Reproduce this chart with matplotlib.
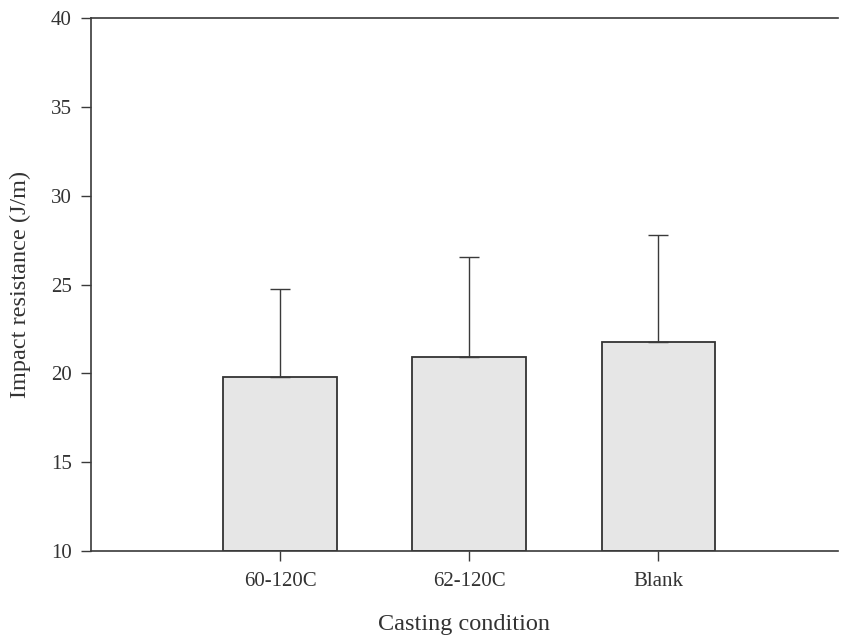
import matplotlib.pyplot as plt

plt.rcParams["font.family"] = ["Liberation Serif", "DejaVu Serif"]

conditions = ["60-120C", "62-120C", "Blank"]
impact = [19.8, 20.9, 21.75]
impact_sd = [4.95, 5.65, 6.05]

fig = plt.figure(figsize=(8.41, 6.40), dpi=100)
ax = fig.add_axes([91 / 841, 89 / 640, 747 / 841, 533 / 640])

pos = [1, 2, 3]
ax.bar(pos, [v - 10 for v in impact], bottom=10, width=0.6,
       color="#e6e6e6", edgecolor="#333333", linewidth=1.3)
ax.errorbar(pos, impact, yerr=[[0, 0, 0], impact_sd], fmt="none",
            ecolor="#3a3a3a", elinewidth=1.0, capsize=7, capthick=1.0)

ax.set_xlim(0, 3.95)
ax.set_ylim(10, 40)
ax.set_yticks(range(10, 41, 5))
ax.set_xticks(pos)
ax.set_xticklabels(conditions)

for side in ("top", "bottom", "left"):
    ax.spines[side].set_color("#3a3a3a")
    ax.spines[side].set_linewidth(1.2)
ax.spines["right"].set_visible(False)

ax.tick_params(axis="both", direction="out", length=7, width=1,
               color="#3a3a3a", labelsize=15, labelcolor="#333333")
ax.tick_params(axis="y", pad=7)
ax.tick_params(axis="x", pad=8)

ax.set_xlabel("Casting condition", fontsize=17.5, color="#333333", labelpad=17)
ax.set_ylabel("Impact resistance (J/m)", fontsize=17.5, color="#333333", labelpad=14)

fig.savefig("out.png", dpi=100)
